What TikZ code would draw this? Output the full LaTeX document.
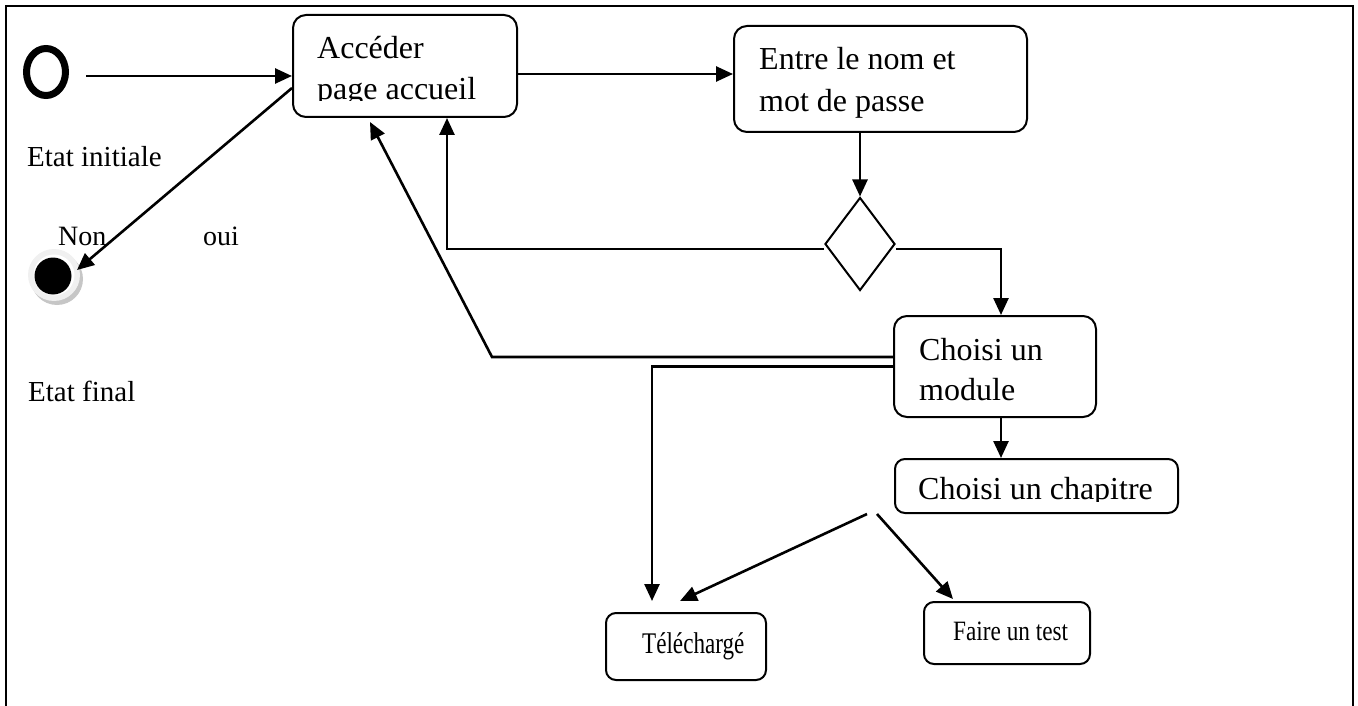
\documentclass[tikz,border=0pt]{standalone}
\usepackage{graphicx}
\usepackage{fontspec}
\setmainfont{Liberation Serif}
\usetikzlibrary{arrows.meta,shapes.geometric}
\tikzset{
  box/.style={draw, line width=2pt, rounded corners=13pt, inner sep=0pt},
  txt/.style={anchor=base west, inner sep=0pt, font=\fontsize{32}{38}\selectfont},
  smalltxt/.style={anchor=base west, inner sep=0pt, font=\fontsize{30}{36}\selectfont},
  lbl/.style={anchor=base west, inner sep=0pt, font=\fontsize{29}{34}\selectfont},
  arr/.style={line width=2.6pt, -{Triangle[length=17pt,width=15pt]}},
}
\begin{document}
\begin{tikzpicture}[x=1pt,y=-1pt]
\useasboundingbox (0,0) rectangle (1358,706);
% frame
\draw[line width=2pt] (6,706) -- (6,6) -- (1353,6) -- (1353,706);

% initial state
\node[ellipse, draw, line width=7pt, minimum width=39pt, minimum height=47pt, inner sep=0pt] (init) at (46,72) {};

% final state
\fill[gray!45] (57,279) circle (26pt);
\fill[gray!12] (54,275) circle (26pt);
\fill[white] (54,275) circle (20.5pt);
\node[circle, fill=black, minimum size=37pt, inner sep=0pt] (final) at (53,276) {};

% boxes
\node[box, minimum width=224pt, minimum height=102pt] (acc) at (405,66) {};
\node[box, minimum width=293pt, minimum height=106pt] (entre) at (880.5,79) {};
\node[diamond, draw, line width=2pt, minimum width=70pt, minimum height=93pt, inner sep=0pt, aspect=0.75] (dec) at (860,244) {};
\node[box, minimum width=202pt, minimum height=101pt] (mod) at (995,366.5) {};
\node[box, rounded corners=10pt, minimum width=283pt, minimum height=54pt] (chap) at (1036.5,486) {};
\node[box, rounded corners=10pt, minimum width=160pt, minimum height=67pt] (tele) at (686,646.5) {};
\node[box, rounded corners=10pt, minimum width=166pt, minimum height=62pt] (test) at (1007,633) {};

% texts
\begin{scope}
  \clip (293,15) rectangle (517,101);
  \node[txt] (t1) at (317,59) {Accéder};
  \node[txt] (t2) at (317,100) {page accueil};
\end{scope}
\node[txt] (t3) at (759,70) {Entre le nom et};
\node[txt] (t4) at (759,112) {mot de passe};
\node[txt] (t5) at (919,360) {Choisi un};
\node[txt] (t6) at (919,400) {module};
\begin{scope}
  \clip (895,459) rectangle (1178,501);
  \node[txt] (t7) at (918,499) {Choisi un chapitre};
\end{scope}
\node[smalltxt] (t8) at (642,653) {\scalebox{0.77}[1]{Téléchargé}};
\node[smalltxt, font=\fontsize{28}{33}\selectfont] (t9) at (953,640) {\scalebox{0.83}[1]{Faire un test}};

\node[lbl] (l1) at (27,167) {Etat initiale};
\node[lbl] (l2) at (28,401) {Etat final};
\node[lbl, font=\fontsize{28}{33}\selectfont] (l3) at (58,245) {Non};
\node[lbl, font=\fontsize{28}{33}\selectfont] (l4) at (203,245) {oui};

% connectors
\draw[arr] ([xshift=17pt,yshift=-4pt]init.east) -- ([yshift=-4pt]init.east -| acc.west);
\draw[arr] ([yshift=-8pt]acc.east) -- ([yshift=-8pt]acc.east -| entre.west);
\draw[arr] (dec.north |- entre.south) -- (dec.north);
\draw[arr] ([yshift=-5pt]dec.west) -| ([xshift=42pt]acc.south);
\draw[arr] ([yshift=-5pt]dec.east) -| ([xshift=6pt]mod.north);
\draw[arr] ([xshift=6pt]mod.south) -- ([xshift=6pt]mod.south |- chap.north);
\draw[arr] ([yshift=9.5pt]mod.west) -- ++(-401,0) -- ([xshift=-35pt,yshift=-4pt]acc.south);
\draw[arr] (mod.west) -| ([xshift=-34pt,yshift=11pt]tele.north);
\draw[arr] ([xshift=-169.5pt]chap.south) -- ([xshift=-6pt,yshift=11pt]tele.north);
\draw[arr] ([xshift=-159.5pt]chap.south) -- ([xshift=-54pt,yshift=2pt]test.north);
\draw[arr] ([yshift=-22pt]acc.west) -- ([xshift=24pt,yshift=6pt]final.center);
\end{tikzpicture}
\end{document}
